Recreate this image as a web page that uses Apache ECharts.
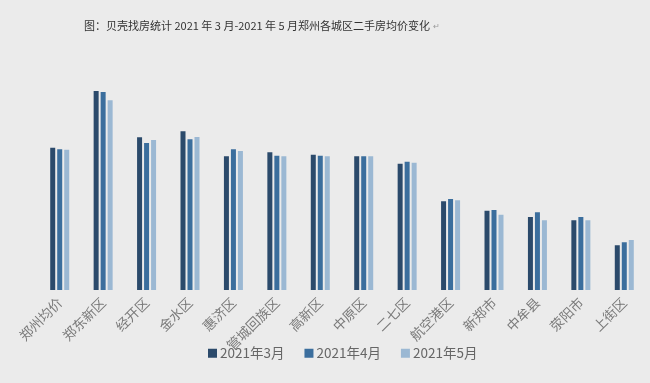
<!DOCTYPE html>
<html>
<head>
<meta charset="utf-8">
<script src="https://cdn.jsdelivr.net/npm/echarts@6/dist/echarts.min.js"></script>
<style>
html,body{margin:0;padding:0;background:#ebebeb;}
#c{width:650px;height:383px;}
</style>
</head>
<body>
<div id="c"></div>
<script>
var titleText = '图：贝壳找房统计 2021 年 3 月-2021 年 5 月郑州各城区二手房均价变化';
var categories = ['郑州均价','郑东新区','经开区','金水区','惠济区','管城回族区','高新区','中原区','二七区','航空港区','新郑市','中牟县','荥阳市','上街区'];
var seriesNames = ['2021年3月','2021年4月','2021年5月'];
var mar2021 = [16380,20920,17220,17700,15700,16020,15820,15700,15100,12100,11340,10840,10580,8580];
var apr2021 = [16260,20840,16760,17060,16260,15740,15740,15700,15260,12280,11400,11220,10840,8820];
var may2021 = [16220,20180,17000,17240,16120,15700,15700,15700,15180,12180,11020,10580,10580,9000];
var colors = ['#2b4a6b','#3b6e9d','#9bb8d3'];

var chart = echarts.init(document.getElementById('c'));
var data = [mar2021, apr2021, may2021];
chart.setOption({
  backgroundColor: '#ebebeb',
  animation: false,
  title: {
    text: titleText + ' {m|↵}',
    left: 79, top: 15,
    textStyle: {
      fontFamily: 'Noto Sans CJK SC', fontSize: 11, fontWeight: 'normal', color: '#333',
      rich: { m: { fontSize: 8, color: '#999' } }
    }
  },
  legend: {
    data: seriesNames,
    bottom: 18, left: 203,
    itemWidth: 9, itemHeight: 9, itemGap: 20,
    icon: 'rect',
    textStyle: { fontFamily: 'Noto Sans CJK SC', fontSize: 13.5, color: '#666', padding: [0,0,0,-2] }
  },
  grid: { left: 38, right: 4, top: 70, bottom: 93 },
  xAxis: {
    type: 'category',
    data: categories,
    axisLine: { show: false },
    axisTick: { show: false },
    axisLabel: {
      rotate: 45, interval: 0, margin: 10,
      fontFamily: 'Noto Sans CJK SC', fontSize: 13.5, color: '#7a7a7a'
    }
  },
  yAxis: {
    type: 'value', min: 5000, max: 22600, show: false,
    splitLine: { show: false }
  },
  series: seriesNames.map(function (n, i) {
    return {
      name: n, type: 'bar', data: data[i],
      barWidth: 5, barGap: '40%',
      itemStyle: { color: colors[i] }
    };
  })
});
</script>
</body>
</html>
